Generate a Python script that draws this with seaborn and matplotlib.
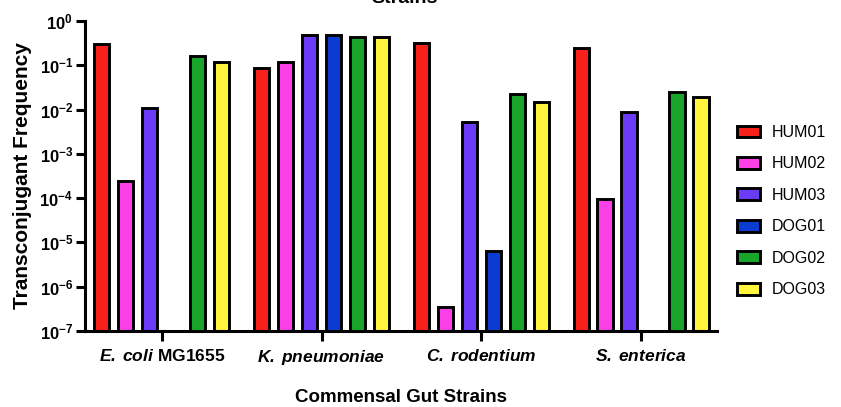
import numpy as np
import pandas as pd
import matplotlib
matplotlib.use("Agg")
import matplotlib.pyplot as plt
import matplotlib.ticker as mticker
import seaborn as sns

strains = [r"$\mathbfit{E.\;coli}$ MG1655", r"$\mathbfit{K.\;pneumoniae}$",
           r"$\mathbfit{C.\;rodentium}$", r"$\mathbfit{S.\;enterica}$"]
donors = ["HUM01", "HUM02", "HUM03", "DOG01", "DOG02", "DOG03"]
colors = ["#F8211A", "#FA40E6", "#6B3CF8", "#0A3CD2", "#18A52A", "#FFF53C"]

hum01 = [0.31, 0.085, 0.32, 0.24]
hum02 = [2.5e-4, 0.116, 3.5e-7, 9.5e-5]
hum03 = [0.011, 0.48, 0.0052, 0.0088]
dog01 = [np.nan, 0.48, 6.5e-6, np.nan]
dog02 = [0.164, 0.43, 0.022, 0.025]
dog03 = [0.12, 0.44, 0.015, 0.019]
y_floor = 1e-7

series = [hum01, hum02, hum03, dog01, dog02, dog03]
rows = []
for d, vals in zip(donors, series):
    for s, v in zip(strains, vals):
        rows.append({"strain": s, "donor": d, "freq": v})
df = pd.DataFrame(rows)

sns.set_theme(style="ticks")
plt.rcParams["font.family"] = ["Liberation Sans", "DejaVu Sans"]
plt.rcParams["text.color"] = "black"
plt.rcParams["axes.labelcolor"] = "black"
plt.rcParams["xtick.color"] = "black"
plt.rcParams["ytick.color"] = "black"
plt.rcParams["mathtext.fontset"] = "custom"
plt.rcParams["mathtext.rm"] = "Liberation Sans"
plt.rcParams["mathtext.it"] = "Liberation Sans:italic"
plt.rcParams["mathtext.bf"] = "Liberation Sans:bold"
plt.rcParams["mathtext.bfit"] = "Liberation Sans:italic:bold"

fig = plt.figure(figsize=(8.41, 4.07), dpi=100)
ax = fig.add_axes([85/841, 1-331/407, (717-85)/841, (331-21)/407])
ax.set_yscale("log")

sns.barplot(data=df, x="strain", y="freq", hue="donor", order=strains,
            hue_order=donors, palette=colors, saturation=1, width=0.9, gap=0.36,
            edgecolor="black", linewidth=2.1, ax=ax, legend=True)

# bars rise from the bottom of the log axis
for p in ax.patches:
    top = p.get_y() + p.get_height()
    if np.isfinite(top) and top > y_floor:
        p.set_y(y_floor)
        p.set_height(top - y_floor)

ax.set_ylim(y_floor, 1)
ax.set_xlim(-0.48, 3.475)
ax.yaxis.set_major_locator(mticker.LogLocator(base=10, numticks=10))
ax.yaxis.set_major_formatter(mticker.LogFormatterMathtext())
ax.yaxis.set_minor_locator(mticker.NullLocator())

for side in ["top", "right"]:
    ax.spines[side].set_visible(False)
for side in ["left", "bottom"]:
    ax.spines[side].set_linewidth(2.2)
    ax.spines[side].set_color("black")

ax.tick_params(axis="y", which="major", length=6.5, width=2.2, color="black",
               labelsize=12, pad=2, labelcolor="black")
ax.tick_params(axis="x", which="major", length=7, width=2.2, color="black",
               labelsize=12.5, pad=5, labelcolor="black")
for lab in ax.get_yticklabels():
    lab.set_fontweight("bold")
for lab in ax.get_xticklabels():
    lab.set_fontweight("bold")

ax.set_ylabel("Transconjugant Frequency", fontsize=15, fontweight="bold", labelpad=5)
ax.set_xlabel("Commensal Gut Strains", fontsize=13.5, fontweight="bold", labelpad=16)

fig.text(405/841, 1-3/407, "Strains", ha="center", va="baseline",
         fontsize=14, fontweight="bold")

handles, labels = ax.get_legend_handles_labels()
leg = ax.legend(handles, labels, loc="upper left",
                bbox_to_anchor=(737/841, 1-125/407), bbox_transform=fig.transFigure,
                frameon=False, fontsize=11.5, borderpad=0, borderaxespad=0,
                handlelength=1.44, handleheight=0.76, handletextpad=0.72,
                labelspacing=1.03)
for h in leg.legend_handles:
    h.set_edgecolor("black")
    h.set_linewidth(2.1)
for t in leg.get_texts():
    t.set_color("black")

fig.savefig("out.png", dpi=100)
